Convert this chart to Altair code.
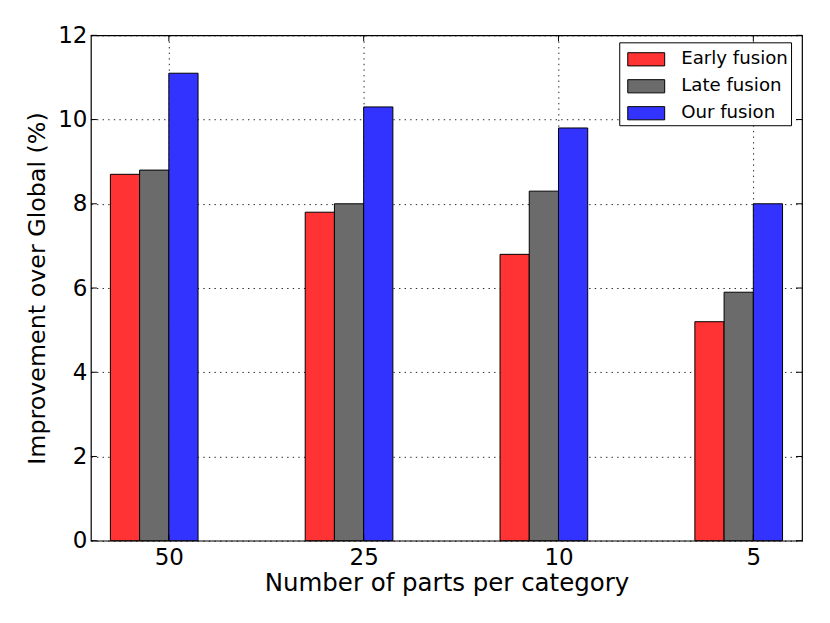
import json
import altair as alt
import pandas as pd

categories = ["50", "25", "10", "5"]
series = ["Early fusion", "Late fusion", "Our fusion"]
early = [8.7, 7.8, 6.8, 5.2]
late = [8.8, 8.0, 8.3, 5.9]
ours = [11.1, 10.3, 9.8, 8.0]
colors = ["#ff3333", "#6b6b6b", "#3333ff"]
y_ticks = [0, 2, 4, 6, 8, 10, 12]
x_ticks = [0, 1, 2, 3]

XT = "Number of parts per category"
YT = "Improvement over Global (%)"

rows = []
for k, (name, vals) in enumerate(zip(series, [early, late, ours])):
    for i, (c, v) in enumerate(zip(categories, vals)):
        rows.append({"idx": i, "cat": c, "series": name, "k": k, "value": v})
df = pd.DataFrame(rows)
dfy = pd.DataFrame({"v": y_ticks})
dfx = pd.DataFrame({"v": x_ticks})

W, H = 712, 506
FONT = "DejaVu Sans"
TL = 6
xscale = alt.Scale(domain=[-0.4, 3.25], nice=False, zero=False)
yscale = alt.Scale(domain=[0, 12], nice=False)

bars = alt.Chart(df).transform_calculate(
    x0="datum.idx - 0.3 + datum.k * 0.15",
    x1="datum.idx - 0.15 + datum.k * 0.15",
).mark_bar(stroke="black", strokeWidth=1, opacity=1).encode(
    x=alt.X("x0:Q", scale=xscale, title=XT,
            axis=alt.Axis(values=x_ticks,
                          labelExpr=json.dumps(categories) + "[datum.value]",
                          labelFontSize=23, labelBaseline="alphabetic",
                          labelPadding=24, ticks=False, domain=False,
                          grid=True, titleFontSize=24.5, titleFontWeight="normal",
                          titleX=356, titleY=50, titleBaseline="alphabetic",
                          titleAlign="center")),
    x2="x1:Q",
    y=alt.Y("value:Q", scale=yscale, title=YT,
            axis=alt.Axis(values=y_ticks, labelFontSize=23, labelPadding=4,
                          ticks=False, domain=False, grid=True,
                          titleFontSize=23.8, titleFontWeight="normal",
                          titleX=-53, titleY=253, titleAngle=-90,
                          titleAlign="center", titleBaseline="middle")),
    y2=alt.datum(0),
    color=alt.Color("series:N", scale=alt.Scale(domain=series, range=colors),
                    legend=alt.Legend(title=None, orient="none", legendX=529, legendY=7)),
)

yl = alt.Chart(dfy).mark_rule(color="black", strokeWidth=1).encode(
    y=alt.Y("v:Q", scale=yscale, title=YT), x=alt.value(0), x2=alt.value(TL))
yr = alt.Chart(dfy).mark_rule(color="black", strokeWidth=1).encode(
    y=alt.Y("v:Q", scale=yscale, title=YT), x=alt.value(W - TL), x2=alt.value(W))
xb = alt.Chart(dfx).mark_rule(color="black", strokeWidth=1).encode(
    x=alt.X("v:Q", scale=xscale, title=XT), y=alt.value(H - TL), y2=alt.value(H))
xt = alt.Chart(dfx).mark_rule(color="black", strokeWidth=1).encode(
    x=alt.X("v:Q", scale=xscale, title=XT), y=alt.value(0), y2=alt.value(TL))

chart = alt.layer(bars, yl, yr, xb, xt).properties(
    width=W, height=H,
    autosize=alt.AutoSizeParams(type="none"),
    padding={"left": 83, "top": 27, "right": 20, "bottom": 60},
).configure_view(
    stroke="black", strokeWidth=1.2
).configure_axis(
    labelFont=FONT, titleFont=FONT, labelColor="black", titleColor="black",
    gridColor="black", gridDash=[1.4, 4.2], gridWidth=1, gridOpacity=0.85,
).configure_legend(
    labelFont=FONT, labelFontSize=18.2, labelColor="black",
    strokeColor="black", strokeWidth=1, fillColor="white", padding=3,
    symbolType="M-1.4,-0.5H1.4V0.5H-1.4Z", symbolSize=697,
    symbolStrokeColor="black", symbolStrokeWidth=1, symbolOpacity=1,
    rowPadding=4, labelOffset=21, symbolOffset=10, cornerRadius=0,
)

chart.save("out.html", embed_options={"renderer": "svg", "actions": False})
